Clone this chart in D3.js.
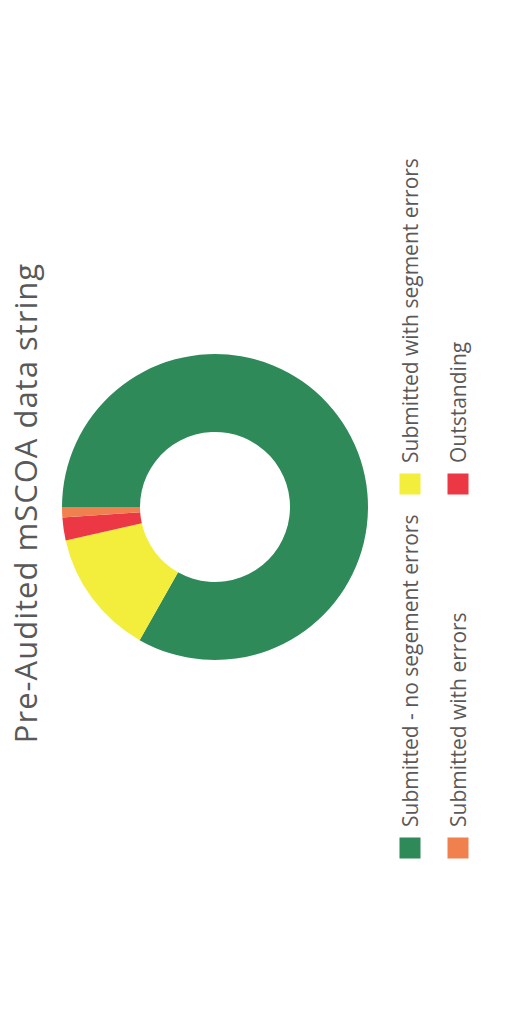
<!DOCTYPE html>
<html>
<head>
<meta charset="utf-8">
<script src="https://cdn.jsdelivr.net/npm/d3@7"></script>
<style>
  html, body { margin: 0; padding: 0; background: #fff; }
  svg { display: block; }
</style>
</head>
<body>
<div id="chart"></div>
<script>
// data, in the order the ring is drawn (clockwise from 12 o'clock)
var categories = ["Submitted - no segement errors", "Submitted with segment errors", "Outstanding", "Submitted with errors"];
var values = [83.2, 13.3, 2.4, 1.1];
var colors = ["#2e8a58", "#f3ee3b", "#ec3844", "#f0814f"];
// legend flows row by row, two per row
var legendOrder = ["Submitted - no segement errors", "Submitted with segment errors", "Submitted with errors", "Outstanding"];
var title = "Pre-Audited mSCOA data string";

(function () {
  "use strict";
  var W = 512, H = 1013;
  // the chart is laid out landscape (H x W) then turned a quarter counter-clockwise
  var opt = {
    cx: 506, cy: 215,
    outer: 153, inner: 75,
    titleX: 510, titleBase: 37,
    legendCols: [165, 529],
    legendRows: [410, 458],
    box: 21
  };

  var svg = d3.select("#chart").append("svg")
    .attr("width", W)
    .attr("height", H);

  var g = svg.append("g")
    .attr("transform", "translate(0," + H + ") rotate(-90)");

  var color = d3.scaleOrdinal().domain(categories).range(colors);
  var data = categories.map(function (c, i) { return { name: c, value: values[i] }; });

  var pie = d3.pie().sort(null).value(function (d) { return d.value; });
  var arc = d3.arc().innerRadius(opt.inner).outerRadius(opt.outer);

  g.append("g")
    .attr("transform", "translate(" + opt.cx + "," + opt.cy + ")")
    .selectAll("path")
    .data(pie(data)).enter()
    .append("path")
    .attr("d", arc)
    .style("fill", function (d) { return color(d.data.name); });

  // title
  g.append("text")
    .attr("x", opt.titleX)
    .attr("y", opt.titleBase)
    .attr("text-anchor", "middle")
    .style("font-family", "'Open Sans', sans-serif")
    .style("font-size", "31px")
    .style("letter-spacing", "1px")
    .style("fill", "#595959")
    .text(title);

  // legend
  var leg = g.append("g").selectAll("g")
    .data(legendOrder).enter()
    .append("g")
    .attr("transform", function (d, i) {
      return "translate(" + opt.legendCols[i % 2] + "," + opt.legendRows[Math.floor(i / 2)] + ")";
    });
  leg.append("rect")
    .attr("x", -opt.box / 2)
    .attr("y", -opt.box / 2)
    .attr("width", opt.box)
    .attr("height", opt.box)
    .style("fill", function (d) { return color(d); });
  leg.append("text")
    .attr("x", 21)
    .attr("y", 8)
    .style("font-family", "'Open Sans', sans-serif")
    .style("font-size", "21px")
    .style("fill", "#595959")
    .text(function (d) { return d; });
})();
</script>
</body>
</html>
